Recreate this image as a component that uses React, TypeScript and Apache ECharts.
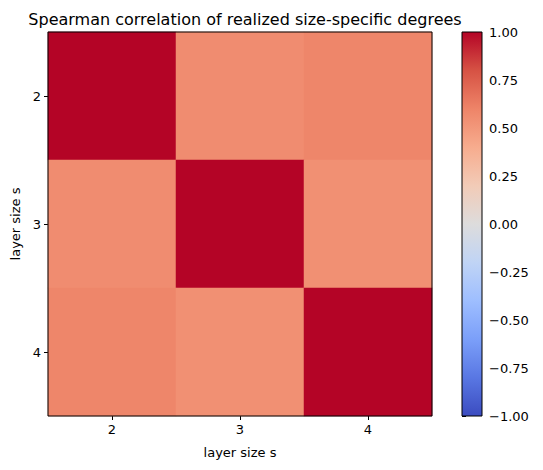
import React, { useEffect, useRef } from "react";
import * as echarts from "echarts";

const sizes = ["2", "3", "4"];
// correlation matrix rows (layer size s) x columns (layer size s)
const row2 = [1.0, 0.56, 0.59];
const row3 = [0.56, 1.0, 0.54];
const row4 = [0.59, 0.54, 1.0];
const matrix = [row2, row3, row4];
const colorbarTicks = [-1, -0.75, -0.5, -0.25, 0, 0.25, 0.5, 0.75, 1];
const coolwarm = [
  "#3b4cc0", "#5977e3", "#7b9ff9", "#9ebeff", "#c0d4f5", "#dddcdc",
  "#f2cbb7", "#f7ac8e", "#ee8468", "#d65244", "#b40426",
];

const FONT = "DejaVu Sans";
const CB = { left: 462, top: 32, width: 20, height: 384 };

export default function App() {
  const ref = useRef<HTMLDivElement>(null);
  useEffect(() => {
    if (!ref.current) return;
    const chart = echarts.init(ref.current, undefined, { renderer: "svg" });
    const data: [number, number, number][] = [];
    matrix.forEach((row, yi) => row.forEach((v, xi) => data.push([xi, yi, v])));
    // top of bar = +1 (last colour), bottom = -1 (first colour)
    const top2bottom = coolwarm.slice().reverse();
    const stops = top2bottom.map((c, i) => ({ offset: i / (top2bottom.length - 1), color: c }));
    chart.setOption({
      animation: false,
      textStyle: { fontFamily: FONT },
      title: {
        text: "Spearman correlation of realized size-specific degrees",
        left: 240,
        textAlign: "center",
        top: 6,
        textStyle: { fontFamily: FONT, fontSize: 16, fontWeight: "normal", color: "#000" },
      },
      grid: [
        { left: 48, top: 32, width: 384, height: 384, show: true, borderColor: "#000", borderWidth: 1, backgroundColor: "transparent", z: 10 },
        { ...CB, show: true, borderColor: "#000", borderWidth: 1, backgroundColor: "transparent", z: 10 },
      ],
      graphic: [
        {
          type: "rect",
          x: CB.left,
          y: CB.top,
          z: 1,
          shape: { x: 0, y: 0, width: CB.width, height: CB.height },
          style: {
            fill: {
              type: "linear",
              x: 0,
              y: 0,
              x2: 0,
              y2: 1,
              colorStops: stops,
            },
          },
        },
      ],
      xAxis: [
        {
          type: "category",
          data: sizes,
          gridIndex: 0,
          name: "layer size s",
          nameLocation: "middle",
          nameGap: 30,
          nameTextStyle: { fontFamily: FONT, fontSize: 13, color: "#000" },
          axisLine: { show: false },
          axisTick: { show: true, alignWithLabel: true, length: 4, lineStyle: { color: "#000" } },
          axisLabel: { fontFamily: FONT, fontSize: 13, color: "#000", margin: 7 },
          splitLine: { show: false },
          splitArea: { show: false },
        },
        { type: "value", gridIndex: 1, show: false, min: 0, max: 1 },
      ],
      yAxis: [
        {
          type: "category",
          data: sizes,
          gridIndex: 0,
          inverse: true,
          name: "layer size s",
          nameLocation: "middle",
          nameGap: 24,
          nameRotate: 90,
          nameTextStyle: { fontFamily: FONT, fontSize: 13, color: "#000" },
          axisLine: { show: false },
          axisTick: { show: true, alignWithLabel: true, length: 4, lineStyle: { color: "#000" } },
          axisLabel: { fontFamily: FONT, fontSize: 13, color: "#000", margin: 7 },
          splitLine: { show: false },
          splitArea: { show: false },
        },
        {
          type: "value",
          gridIndex: 1,
          position: "right",
          min: colorbarTicks[0],
          max: colorbarTicks[colorbarTicks.length - 1],
          interval: 0.25,
          axisLine: { show: false },
          axisTick: { show: true, length: 4, lineStyle: { color: "#000" } },
          axisLabel: {
            fontFamily: FONT,
            fontSize: 13,
            color: "#000",
            margin: 7,
            formatter: (v: number) => v.toFixed(2).replace("-", "\u2212"),
          },
          splitLine: { show: false },
        },
      ],
      visualMap: {
        type: "continuous",
        show: false,
        min: -1,
        max: 1,
        seriesIndex: 0,
        inRange: { color: coolwarm },
      },
      series: [
        {
          type: "heatmap",
          xAxisIndex: 0,
          yAxisIndex: 0,
          data,
          itemStyle: { borderWidth: 0 },
          emphasis: { disabled: true },
        },
      ],
    });
    return () => chart.dispose();
  }, []);
  return <div ref={ref} style={{ width: 543, height: 470, position: "absolute", left: 0, top: 0 }} />;
}
